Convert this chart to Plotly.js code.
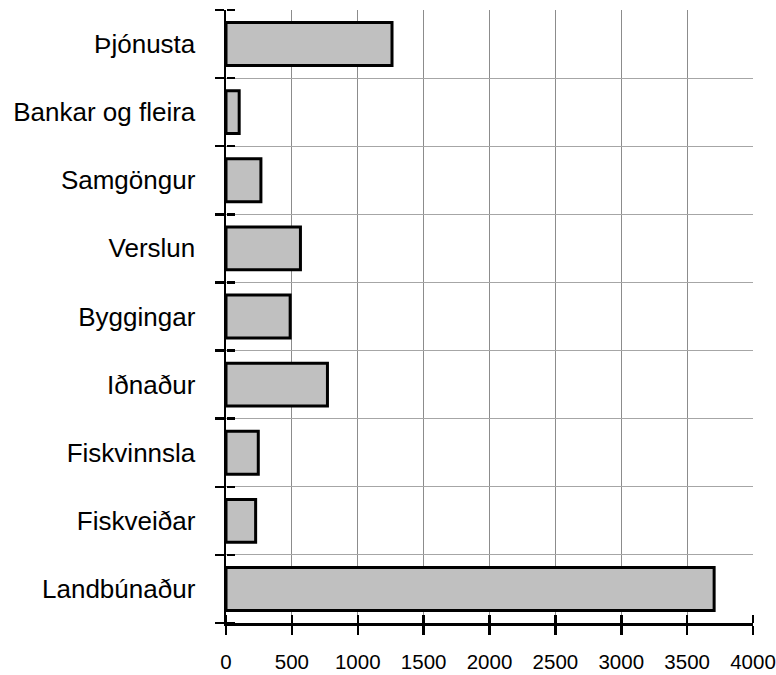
<!DOCTYPE html>
<html>
<head>
<meta charset="utf-8">
<script src="https://cdn.plot.ly/plotly-3.0.1.min.js"></script>
<style>
html,body{margin:0;padding:0;background:#fff;}
#chart{width:776px;height:675px;}
</style>
</head>
<body>
<div id="chart"></div>
<script>
// Categories listed bottom to top
var categories = ["Landbúnaður", "Fiskveiðar", "Fiskvinnsla", "Iðnaður", "Byggingar", "Verslun", "Samgöngur", "Bankar og fleira", "Þjónusta"];
var values = [3705, 225, 245, 770, 487, 565, 265, 100, 1260];
var xTickValues = [0, 500, 1000, 1500, 2000, 2500, 3000, 3500, 4000];

var FONT = "Liberation Sans, Arial, sans-serif";

var mainTrace = {
  type: "bar",
  orientation: "h",
  y: categories,
  x: values,
  marker: {color: "#c0c0c0", line: {color: "#000000", width: 3}},
  hoverinfo: "x+y",
  showlegend: false
};
// invisible copies that only carry the second (crossing-tick) axes
var ghostX2 = {
  type: "bar", orientation: "h", y: categories, x: values,
  xaxis: "x2", yaxis: "y",
  marker: {color: "rgba(0,0,0,0)", line: {width: 0}},
  hoverinfo: "skip", showlegend: false
};
var ghostY2 = {
  type: "bar", orientation: "h", y: categories, x: values,
  xaxis: "x", yaxis: "y2",
  marker: {color: "rgba(0,0,0,0)", line: {width: 0}},
  hoverinfo: "skip", showlegend: false
};

var layout = {
  width: 776,
  height: 675,
  margin: {l: 226, r: 23, t: 10, b: 52},
  paper_bgcolor: "#ffffff",
  plot_bgcolor: "#ffffff",
  bargap: 0.37,
  barmode: "overlay",
  showlegend: false,
  font: {family: FONT, color: "#000000"},
  xaxis: {
    range: [0, 4000],
    tickvals: xTickValues,
    ticktext: xTickValues.map(String),
    showgrid: true,
    gridcolor: "#8c8c8c",
    gridwidth: 1,
    zeroline: false,
    showline: true,
    linecolor: "#000000",
    linewidth: 2.5,
    ticks: "outside",
    ticklen: 9,
    tickwidth: 2.5,
    tickcolor: "#000000",
    tickfont: {family: FONT, size: 20.5, color: "#000000"},
    ticklabelstandoff: 10,
    fixedrange: true
  },
  yaxis: {
    type: "category",
    categoryorder: "array",
    categoryarray: categories,
    range: [-0.5, categories.length - 0.5],
    tickson: "boundaries",
    showgrid: true,
    gridcolor: "#a6a6a6",
    gridwidth: 1,
    zeroline: false,
    showline: true,
    linecolor: "#000000",
    linewidth: 2.5,
    ticks: "outside",
    ticklen: 9,
    tickwidth: 2.5,
    tickcolor: "#000000",
    tickfont: {family: FONT, size: 26, color: "#000000"},
    ticklabelstandoff: 23,
    fixedrange: true
  },
  // second x axis sits on the bottom edge but faces up, so its ticks point into the plot
  xaxis2: {
    overlaying: "x",
    anchor: "free",
    position: 0,
    side: "top",
    range: [0, 4000],
    tickvals: xTickValues,
    showticklabels: false,
    showgrid: false,
    zeroline: false,
    showline: false,
    ticks: "outside",
    ticklen: 8,
    tickwidth: 2.5,
    tickcolor: "#000000",
    fixedrange: true
  },
  // second y axis sits on the left edge but faces right
  yaxis2: {
    overlaying: "y",
    anchor: "free",
    position: 0,
    side: "right",
    type: "category",
    categoryorder: "array",
    categoryarray: categories,
    range: [-0.5, categories.length - 0.5],
    tickson: "boundaries",
    showticklabels: false,
    showgrid: false,
    zeroline: false,
    showline: false,
    ticks: "outside",
    ticklen: 8,
    tickwidth: 2.5,
    tickcolor: "#000000",
    fixedrange: true
  }
};

Plotly.newPlot("chart", [mainTrace, ghostX2, ghostY2], layout, {displayModeBar: false, staticPlot: true});
</script>
</body>
</html>
